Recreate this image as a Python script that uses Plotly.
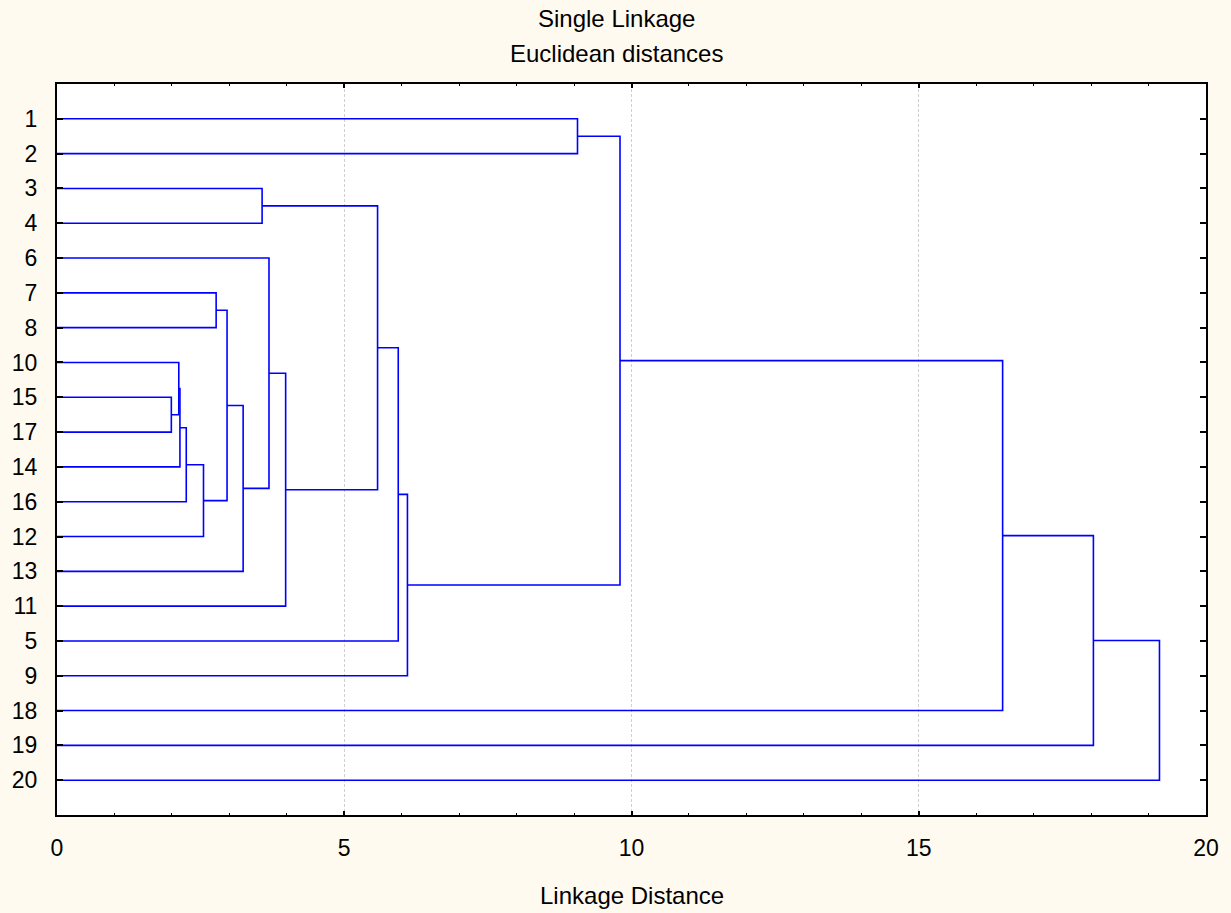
import plotly.graph_objects as go

# Case labels in the order they appear down the tree
leaf_order = ["1", "2", "3", "4", "6", "7", "8", "10", "15", "17",
              "14", "16", "12", "13", "11", "5", "9", "18", "19", "20"]

# Agglomeration steps: each step joins two members into a new cluster.
# Cases keep their own numbers; new clusters are numbered 21, 22, ... in step order.
left_ids = [15, 10, 22, 23, 24, 7, 26, 27, 3, 6, 30, 29, 32, 33, 1, 35, 36, 37, 38]
right_ids = [17, 21, 14, 16, 12, 8, 25, 13, 4, 28, 11, 31, 5, 9, 2, 34, 18, 19, 20]
distances = [1.99, 2.12, 2.14, 2.25, 2.55, 2.77, 2.96, 3.24, 3.57, 3.69,
             3.98, 5.58, 5.94, 6.10, 9.06, 9.80, 16.46, 18.04, 19.19]

x_ticks = [0, 5, 10, 15, 20]

FONT = "Liberation Sans, Arial, sans-serif"
BLUE = "#0000FF"

# position of every node: (height, row)
node = {int(lab): (0.0, i + 1) for i, lab in enumerate(leaf_order)}

xs, ys = [], []
for k, (a, b, d) in enumerate(zip(left_ids, right_ids, distances)):
    ha, ya = node[a]
    hb, yb = node[b]
    xs += [ha, d, d, hb, None]
    ys += [ya, ya, yb, yb, None]
    node[21 + k] = (d, (ya + yb) / 2.0)

fig = go.Figure()
fig.add_trace(go.Scatter(
    x=xs, y=ys, mode="lines",
    line=dict(color=BLUE, width=1.6),
    hoverinfo="skip", showlegend=False,
))

fig.update_layout(
    width=1231, height=913,
    margin=dict(l=53, r=21, t=84, b=98),
    paper_bgcolor="#FFFAF0",
    plot_bgcolor="#FFFFFF",
    font=dict(family=FONT, size=23, color="#000000"),
    showlegend=False,
)

fig.update_xaxes(
    range=[0, 20],
    tickvals=x_ticks,
    ticktext=[str(v) for v in x_ticks],
    ticks="inside", ticklen=4, tickwidth=2, tickcolor="#000000",
    minor=dict(dtick=1, tick0=0, ticks="inside", ticklen=2, tickwidth=1,
               tickcolor="#000000", showgrid=False),
    showline=True, linecolor="#000000", linewidth=2, mirror="ticks",
    showgrid=True, gridcolor="#CFCFCF", gridwidth=1, griddash="3px,2px",
    zeroline=False,
    tickfont=dict(family=FONT, size=23, color="#000000"),
    ticklabelstandoff=11,
)

fig.update_yaxes(
    range=[21, 0],
    tickvals=list(range(1, len(leaf_order) + 1)),
    ticktext=leaf_order,
    ticks="inside", ticklen=6, tickwidth=2, tickcolor="#000000",
    showline=True, linecolor="#000000", linewidth=2, mirror="ticks",
    showgrid=False, zeroline=False,
    tickfont=dict(family=FONT, size=23, color="#000000"),
    ticklabelstandoff=13,
)

# chart heading (two lines) and axis caption
fig.add_annotation(text="Single Linkage", xref="paper", yref="paper",
                   x=0.487, y=1 + (84 - 19) / 731, xanchor="center", yanchor="middle",
                   showarrow=False, font=dict(family=FONT, size=24, color="#000000"))
fig.add_annotation(text="Euclidean distances", xref="paper", yref="paper",
                   x=0.487, y=1 + (84 - 53) / 731, xanchor="center", yanchor="middle",
                   showarrow=False, font=dict(family=FONT, size=24, color="#000000"))
fig.add_annotation(text="Linkage Distance", xref="paper", yref="paper",
                   x=0.5, y=-(895 - 815) / 731, xanchor="center", yanchor="middle",
                   showarrow=False, font=dict(family=FONT, size=24, color="#000000"))

fig.write_html("out.html")
